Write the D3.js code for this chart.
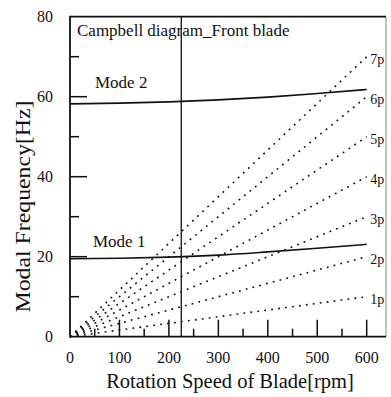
<!DOCTYPE html>
<html>
<head>
<meta charset="utf-8">
<script src="https://cdn.jsdelivr.net/npm/d3@7"></script>
<style>
  body { margin: 0; background: #fff; }
  text { font-family: "Liberation Serif", "Times New Roman", serif; fill: #111; }
</style>
</head>
<body>
<div id="chart"></div>
<script>
const rpm = [0, 100, 200, 300, 400, 500, 600];
const mode1 = [19.5, 19.6, 19.9, 20.4, 21.2, 22.1, 23.1];
const mode2 = [58.2, 58.4, 58.7, 59.2, 59.9, 60.8, 61.8];
const orders = [1, 2, 3, 4, 5, 6, 7];
const orderLabels = ["1p", "2p", "3p", "4p", "5p", "6p", "7p"];
const markRpm = 225;
const xTicks = [0, 100, 200, 300, 400, 500, 600];
const yTicks = [0, 20, 40, 60, 80];
const title = "Campbell diagram_Front blade";

const width = 391, height = 397;
const svg = d3.select("#chart").append("svg")
  .attr("width", width).attr("height", height);

const x = d3.scaleLinear().domain([0, 600]).range([70, 366.7]);
const y = d3.scaleLinear().domain([0, 80]).range([336.7, 16.7]);
const pl = 70, pr = 386, pt = 16.7, pb = 336.7;

// ticks (inward)
const g = svg.append("g").attr("stroke", "#111").attr("stroke-width", 1.5);
d3.range(10, 80, 10).forEach(v => {
  g.append("line").attr("x1", pl).attr("x2", pl + (v % 20 === 0 ? 17 : 9))
    .attr("y1", y(v)).attr("y2", y(v));
});
d3.range(50, 650, 50).forEach(v => {
  g.append("line").attr("x1", x(v)).attr("x2", x(v))
    .attr("y1", pb).attr("y2", pb - (v % 100 === 0 ? 17 : 8));
});

// order lines
const line = d3.line().x(d => x(d[0])).y(d => y(d[1]));
orders.forEach((n, i) => {
  svg.append("path")
    .attr("d", line([[0, 0], [600, n * 600 / 60]]))
    .attr("fill", "none").attr("stroke", "#111")
    .attr("stroke-width", 1.6).attr("stroke-dasharray", "1.8,5.2");
  svg.append("text")
    .attr("x", x(600) + 3.5).attr("y", y(n * 10) + 7)
    .attr("font-size", 14).text(orderLabels[i]);
});

// modes
const modeLine = d3.line().x((d, i) => x(rpm[i])).y(d => y(d)).curve(d3.curveMonotoneX);
[mode1, mode2].forEach(m => {
  svg.append("path").attr("d", modeLine(m))
    .attr("fill", "none").attr("stroke", "#111").attr("stroke-width", 1.6);
});
svg.append("text").attr("x", 95).attr("y", 88).attr("font-size", 17).text("Mode 2");
svg.append("text").attr("x", 93).attr("y", 247).attr("font-size", 17).text("Mode 1");

// vertical marker
svg.append("line").attr("x1", x(markRpm)).attr("x2", x(markRpm))
  .attr("y1", pt).attr("y2", pb).attr("stroke", "#111").attr("stroke-width", 1.3);

// frame
svg.append("line").attr("x1", pr).attr("x2", pr).attr("y1", pt).attr("y2", pb)
  .attr("stroke", "#888").attr("stroke-width", 1);
svg.append("path")
  .attr("d", `M${pr},${pt}H${pl}V${pb}H${pr}`)
  .attr("fill", "none").attr("stroke", "#111").attr("stroke-width", 1.8);

// tick labels
yTicks.forEach(v => {
  svg.append("text").attr("x", 53).attr("y", y(v) + 5)
    .attr("text-anchor", "end").attr("font-size", 16).text(v);
});
xTicks.forEach(v => {
  svg.append("text").attr("x", x(v)).attr("y", 363)
    .attr("text-anchor", "middle").attr("font-size", 16).text(v);
});

svg.append("text").attr("x", 77).attr("y", 36).attr("font-size", 17).text(title);

svg.append("text").attr("x", 230).attr("y", 388)
  .attr("text-anchor", "middle").attr("font-size", 20.5).text("Rotation Speed of Blade[rpm]");
svg.append("text").attr("transform", "translate(30,206.5) rotate(-90)")
  .attr("text-anchor", "middle").attr("font-size", 20.5)
  .attr("textLength", 212).attr("lengthAdjust", "spacingAndGlyphs")
  .text("Modal Frequency[Hz]");
</script>
</body>
</html>
